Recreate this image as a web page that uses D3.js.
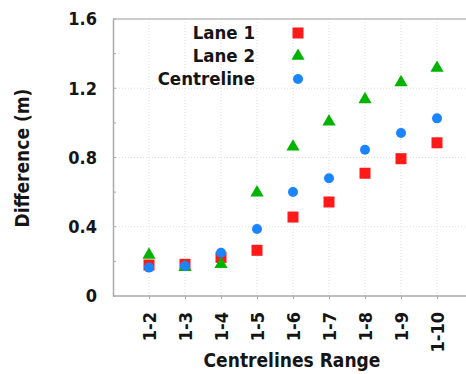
<!DOCTYPE html>
<html><head><meta charset="utf-8">
<script src="https://cdn.jsdelivr.net/npm/d3@7"></script>
<style>body{margin:0;background:#fff}svg{display:block}</style>
</head><body>
<script>
const categories = ["1-2","1-3","1-4","1-5","1-6","1-7","1-8","1-9","1-10"];
const lane1 = [0.179,0.183,0.223,0.264,0.456,0.543,0.709,0.793,0.885];
const lane2 = [0.237,0.167,0.183,0.597,0.862,1.007,1.136,1.234,1.317];
const centreline = [0.164,0.173,0.25,0.387,0.601,0.68,0.845,0.941,1.026];
const yTicks = [0,0.4,0.8,1.2,1.6];
const yMinor = [0.2,0.6,1.0,1.4];
const seriesNames = ["Lane 1","Lane 2","Centreline"];

(function(){
const W=466,H=374;
const svg=d3.select("body").append("svg").attr("width",W).attr("height",H);
const pLeft=113, pRight=473, pTop=19, pBottom=296;
const x=d3.scalePoint().domain(categories).range([pLeft,pRight]).padding(1);
const y=d3.scaleLinear().domain([0,1.6]).range([pBottom,pTop]);
const font="'DejaVu Sans Condensed', 'DejaVu Sans', sans-serif";
const ink="#151515";

// grid
const g=svg.append("g");
g.selectAll(".hg").data(yTicks.slice(1,-1)).join("line")
 .attr("x1",pLeft).attr("x2",W).attr("y1",d=>y(d)).attr("y2",d=>y(d))
 .attr("stroke","#ddd").attr("stroke-dasharray","1,2");
g.selectAll(".vg").data(categories).join("line")
 .attr("x1",d=>x(d)).attr("x2",d=>x(d)).attr("y1",pTop).attr("y2",pBottom)
 .attr("stroke","#ddd").attr("stroke-dasharray","1,2");

// frame
svg.append("line").attr("x1",pLeft).attr("x2",W).attr("y1",pTop).attr("y2",pTop).attr("stroke","#bbb").attr("stroke-width",1.5);

// y axis
const ya=svg.append("g").attr("transform",`translate(${pLeft},0)`)
 .call(d3.axisLeft(y).tickValues(yTicks).tickFormat(d=>d===0?"0":d3.format(".1f")(d)).tickSize(0).tickPadding(16));
ya.select(".domain").attr("stroke","#aaa").attr("stroke-width",1.5);
ya.selectAll("text").attr("font-family",font).attr("font-weight","bold").attr("font-size",18).attr("fill",ink);
svg.append("g").selectAll("line").data(yMinor.concat(yTicks)).join("line")
 .attr("x1",pLeft).attr("x2",pLeft+3).attr("y1",d=>y(d)).attr("y2",d=>y(d)).attr("stroke","#aaa");

// x axis
const xa=svg.append("g").attr("transform",`translate(0,${pBottom})`)
 .call(d3.axisBottom(x).tickSize(3).tickSizeOuter(0));
xa.select(".domain").attr("stroke","#aaa").attr("stroke-width",1.5).attr("d",`M${pLeft},0H${W}`);
xa.selectAll(".tick line").attr("stroke","#aaa");
xa.selectAll("text").attr("font-family",font).attr("font-weight","bold").attr("font-size",18).attr("fill",ink)
 .attr("transform","rotate(-90)").attr("text-anchor","end").attr("dy","0.35em").attr("x",-16).attr("y",0);

// titles
svg.append("text").attr("x",292).attr("y",367).attr("text-anchor","middle")
 .attr("font-family",font).attr("font-weight","bold").attr("font-size",19).attr("fill",ink).text("Centrelines Range");
svg.append("text").attr("transform","translate(29,158) rotate(-90)").attr("text-anchor","middle")
 .attr("font-family",font).attr("font-weight","bold").attr("font-size",19).attr("fill",ink).text("Difference (m)");

const red="#ff1a1a", green="#00b400", blue="#1a85ff";
function drawSquare(sel,cx,cy){sel.append("rect").attr("x",cx-5.5).attr("y",cy-5.5).attr("width",11).attr("height",11).attr("fill",red);}
const tri=d3.symbol().type(d3.symbolTriangle).size(75);
function drawTri(sel,cx,cy){sel.append("path").attr("d",tri()).attr("transform",`translate(${cx},${cy})`).attr("fill",green);}
function drawCirc(sel,cx,cy){sel.append("circle").attr("cx",cx).attr("cy",cy).attr("r",5).attr("fill",blue);}

const m=svg.append("g");
categories.forEach((c,i)=>{drawSquare(m,x(c),y(lane1[i]));});
categories.forEach((c,i)=>{drawTri(m,x(c),y(lane2[i]));});
categories.forEach((c,i)=>{drawCirc(m,x(c),y(centreline[i]));});

// legend
const drawers=[drawSquare,drawTri,drawCirc];
seriesNames.forEach((n,i)=>{
  const ly=33+i*23;
  svg.append("text").attr("x",255).attr("y",ly).attr("dy","0.35em").attr("text-anchor","end")
   .attr("font-family",font).attr("font-weight","bold").attr("font-size",18.5).attr("fill",ink).text(n);
  drawers[i](svg,298,ly);
});
})();
</script>
</body></html>
